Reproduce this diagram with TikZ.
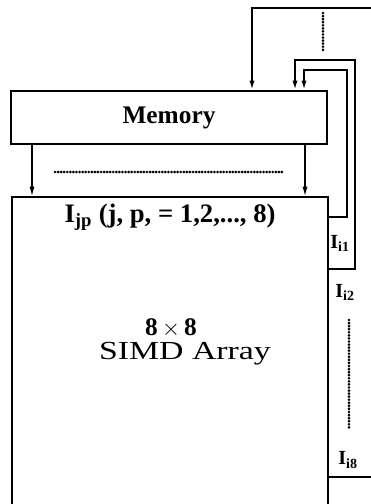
\documentclass[tikz,border=0pt]{standalone}
\usepackage{fontspec}
\setmainfont{Liberation Serif}
\usetikzlibrary{arrows.meta, positioning, calc}

\begin{document}
\begin{tikzpicture}[x=0.75pt, y=-0.75pt,
    unit/.style={rectangle, draw, line width=1.4pt, inner sep=0pt},
    feed/.style={line width=1.3pt},
    arr/.style={-{Latex[length=7pt, width=3.8pt]}, line width=1.3pt},
    thinarr/.style={-{Latex[length=7pt, width=3.8pt]}, line width=0.8pt},
    dots/.style={line width=2.2pt, dash pattern=on 0pt off 2.3pt, line cap=round},
    lbl/.style={font=\fontsize{19}{22}\selectfont\bfseries},
    idx/.style={font=\fontsize{15}{17}\selectfont\bfseries},
  ]
  \clip (0,0) rectangle (371,504);

  % Memory and array
  \node[unit, minimum width=237pt, minimum height=39.75pt, lbl] (mem) at (169,117.5) {Memory};
  \node[unit, anchor=north west, minimum width=237pt, minimum height=243pt] (arr) at (11,196) {};

  % Texts inside the array
  \node[lbl, font=\fontsize{20}{22}\selectfont\bfseries] (jp) at (170,217) {I\textsubscript{jp} (j, p, = 1,2,..., 8)};
  \node[lbl, inner sep=0pt] (size) at (171,328) {8\,$\times$\,8};
  \node[font=\fontsize{19.5}{22}\selectfont, inner sep=0pt] (simd) at (185,354) {\scalebox{1.3}[1]{SIMD Array}};

  % Memory to array
  \draw[thinarr] (mem.south -| 32,0) -- (arr.north -| 32,0);
  \draw[thinarr] (mem.south -| 305,0) -- (arr.north -| 305,0);
  \draw[dots] (55,172) -- (282,172);

  % Feedback lines
  \coordinate (in0) at (372,8);
  \coordinate (out8) at (372,477);
  \draw[arr] (in0) -| (mem.north -| 252,0);
  \draw[arr] (arr.east |- 0,269) -- (355,269) |- (295,60) -- (mem.north -| 295,0);
  \draw[arr] (arr.east |- 0,217) -- (347,217) |- (304,70) -- (mem.north -| 304,0);
  \draw[feed] (arr.east |- out8) -- (out8);
  \draw[dots] (323,13) -- (323,50);
  \draw[dots] (349,320) -- (349,430);

  % Row labels
  \node[idx] (i1) at (340,243) {I\textsubscript{i1}};
  \node[idx] (i2) at (345,292) {I\textsubscript{i2}};
  \node[idx] (i8) at (348,460) {I\textsubscript{i8}};
\end{tikzpicture}
\end{document}
